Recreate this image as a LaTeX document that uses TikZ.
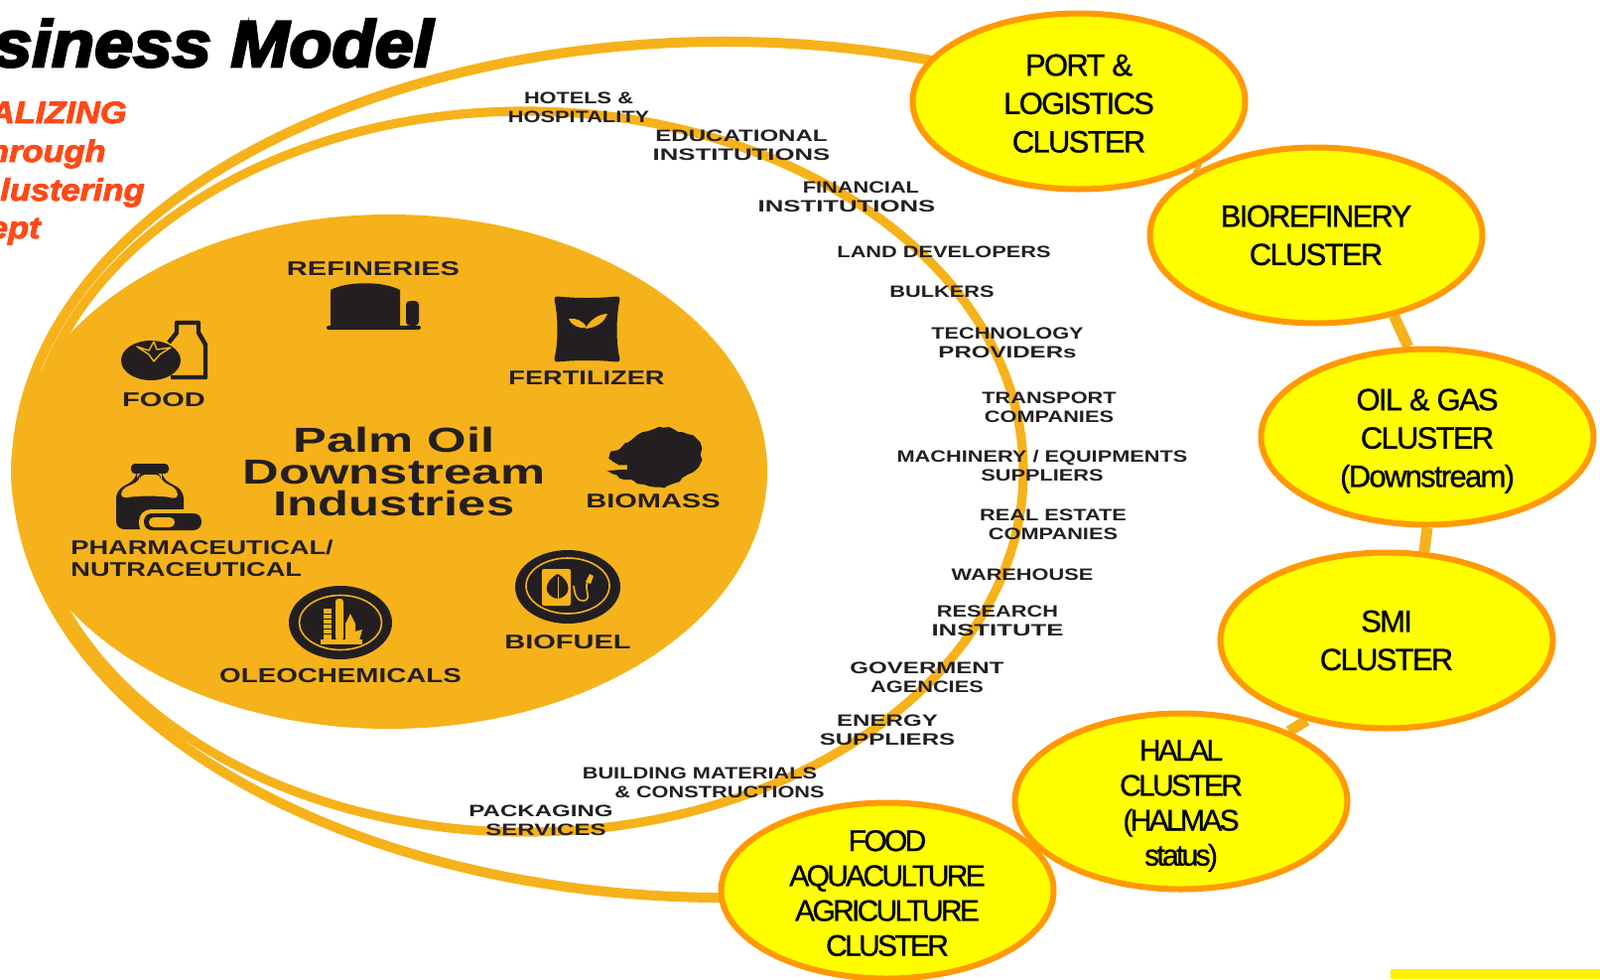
\documentclass[tikz,border=0pt]{standalone}
\usepackage{fontspec}
\usepackage{tikz}
\usetikzlibrary{positioning}
\usetikzlibrary{backgrounds}
\usetikzlibrary{shapes.geometric}
\usetikzlibrary{decorations.pathmorphing}
\setmainfont{Liberation Sans}
\newfontfamily\heavyfont[BoldItalicFeatures={FakeBold=4,FakeStretch=1.07}]{Liberation Sans}
\newfontfamily\bannerfont[BoldItalicFeatures={FakeBold=3,FakeStretch=1.11}]{Liberation Sans}
\newfontfamily\clusterfont[LetterSpace=-5.5,FakeBold=0.8]{Liberation Sans}
\newfontfamily\tightfont[LetterSpace=-9,FakeBold=0.8]{Liberation Sans}
\newfontfamily\labelfont[FakeStretch=1.45]{Liberation Sans}
\newfontfamily\sectorfont[FakeStretch=1.36]{Liberation Sans}
\newfontfamily\partnerfont[FakeStretch=1.31]{Liberation Sans}
\newfontfamily\widefont[FakeStretch=1.55]{Liberation Sans}
\definecolor{gold}{RGB}{246,178,26}
\definecolor{lemon}{RGB}{255,255,0}
\definecolor{rim}{RGB}{255,153,0}
\definecolor{ink}{RGB}{35,31,32}
\definecolor{flame}{RGB}{255,74,23}
\definecolor{barcol}{RGB}{255,242,0}

\begin{document}
\begin{tikzpicture}[x=0.5pt,y=-0.5pt]
	\tikzstyle{ringline}=[draw=gold, line width=5pt]
	\tikzstyle{link}=[draw=gold, line width=5.5pt]
	\tikzstyle{cluster}=[ellipse, draw=rim, fill=lemon, line width=3pt, minimum width=167.5pt, minimum height=88.5pt, inner xsep=0pt, inner ysep=-30pt, align=center, font=\clusterfont\fontsize{15.5}{19.3}\selectfont]
	\tikzstyle{clustertight}=[cluster, font=\tightfont\fontsize{15}{17.6}\selectfont]
	\tikzstyle{sector}=[inner sep=0pt, yshift=-0.8pt, align=center, text=ink, font=\labelfont\bfseries\fontsize{10}{10.8}\selectfont]
	\tikzstyle{partner}=[inner sep=0pt, yshift=-0.6pt, align=center, text=ink, font=\partnerfont\bfseries\fontsize{8.3}{9.8}\selectfont]
	\tikzstyle{partnerwide}=[partner, font=\labelfont\bfseries\fontsize{8.3}{9.8}\selectfont]
	\tikzstyle{banner}=[inner sep=0pt, anchor=base east, text=flame, font=\bannerfont\bfseries\itshape\fontsize{15.5}{18}\selectfont]
	\tikzstyle{icon}=[fill=ink, draw=none]
	
	\useasboundingbox (0,0) rectangle (1612,986);
	
	% rings behind everything
	\draw [ringline] (944,62) arc [start angle=-72.5, end angle=-270, x radius=713, y radius=431];
	\draw [ringline, line width=4.6pt] (529,475) ellipse [x radius=502, y radius=363];
	\fill [gold] (392,475) ellipse [x radius=381, y radius=259];
	
	\node at (437,67) [inner sep=0pt, anchor=base east, font=\heavyfont\bfseries\itshape\fontsize{33}{36}\selectfont] (title) {siness Model};
	\node at (128,124) [banner] (line1) {ALIZING};
	\node at (107,163) [banner] (line2) {hrough};
	\node at (146,202) [banner] (line3) {lustering};
	\node at (41,240) [banner] (line4) {ept};
	
	\node at (397,475) [inner sep=0pt, align=center, text=ink, font=\labelfont\bfseries\fontsize{17.5}{16.2}\selectfont] (palm) {Palm Oil\\Downstream\\Industries};
	
	\node at (376,269) [sector] (refineries) {REFINERIES};
	\node at (165,401) [sector] (food) {FOOD};
	\node at (591,379) [sector, font=\sectorfont\bfseries\fontsize{10}{10.8}\selectfont] (fertilizer) {FERTILIZER};
	\node at (658,503) [sector] (biomass) {BIOMASS};
	\node at (71,561) [sector, anchor=west, align=left, font=\sectorfont\bfseries\fontsize{10}{10.8}\selectfont] (pharma) {PHARMACEUTICAL/\\NUTRACEUTICAL};
	\node at (343,679) [sector, font=\sectorfont\bfseries\fontsize{10.2}{10.8}\selectfont] (oleo) {OLEOCHEMICALS};
	\node at (572,645) [sector] (biofuel) {BIOFUEL};
	
	% refinery
	\fill [icon] (333,328) -- (333,292) .. controls (350,283) and (386,283) .. (403,292) -- (403,328) -- cycle;
	\fill [icon, rounded corners=1pt] (329,328) rectangle (424,332);
	\fill [icon, rounded corners=2pt] (409,328) -- (409,303) -- (422,303) -- (422,328) -- cycle;
	
	% tomato and bottle
	\draw [ink, line width=2.2pt, line join=round] (170,345) -- (178,335) -- (178,325) -- (200,325) -- (200,335) -- (207,347) -- (207,380) -- (172,380);
	\fill [icon] (152,363) ellipse [x radius=30, y radius=20];
	\draw [gold, line width=0.7pt, line join=round] (138,349) -- (150,353) -- (155,344) -- (158,352) -- (172,350) -- (161,357) -- (155,364) -- (150,357) -- cycle;
	
	% fertilizer bag
	\filldraw [ink, line width=2.5pt, line join=round] (561,301) .. controls (580,303) and (603,303) .. (622,301) .. controls (618,320) and (618,345) .. (622,362) .. controls (603,360) and (580,360) .. (561,362) .. controls (565,345) and (565,320) .. (561,301) -- cycle;
	\fill [gold] (573,321) .. controls (580,320) and (588,323) .. (591,330) .. controls (583,331) and (576,328) .. (573,321) -- cycle;
	\fill [gold] (612,316) .. controls (604,316) and (594,322) .. (590,331) .. controls (600,330) and (609,325) .. (612,316) -- cycle;
	
	% biomass heap
	\fill [icon, decorate, decoration={random steps, segment length=2.5pt, amplitude=0.8pt}] plot [smooth cycle] coordinates {(615,460) (644,437) (668,431) (702,443) (704,470) (678,487) (658,490) (617,477) (632,472)};
	
	% pharmaceutical bottle and pill
	\fill [icon, rounded corners=4pt] (138,476) -- (138,482) -- (117,494) -- (117,533) -- (185,533) -- (185,494) -- (163,482) -- (163,476) -- cycle;
	\fill [icon, rounded corners=2pt] (132,467) rectangle (170,477);
	\fill [gold, rounded corners=2.5pt] (122,502) -- (122,493) -- (141,484) -- (141,478) -- (162,478) -- (162,484) -- (179,493) -- (179,503) .. controls (165,499) and (140,499) .. (122,502) -- cycle;
	\fill [gold, rounded corners=6pt] (140,513) rectangle (208,540);
	\fill [icon, rounded corners=4pt] (145,517) rectangle (203,534);
	\fill [gold, rounded corners=2.4pt] (150,521) rectangle (176,531);
	
	% oleochemicals badge
	\fill [icon] (343,627) ellipse [x radius=52, y radius=37];
	\draw [gold, line width=0.8pt] (343,627) ellipse [x radius=41.5, y radius=27.5];
	\fill [gold] (323,644) rectangle (365,649);
	\fill [gold] (326,613) rectangle (334,645);
	\foreach \ypos in {618,623,...,638}
		\draw [ink, line width=0.3pt] (326,\ypos) -- (334,\ypos);
	\fill [gold, rounded corners=1.5pt] (338,645) -- (338,603) -- (346,603) -- (346,645) -- cycle;
	\fill [gold] (348,645) -- (348,628) -- (353,618) -- (358,628) -- (358,636) -- (365,634) -- (362,645) -- cycle;
	
	% biofuel badge
	\fill [icon] (572,591) ellipse [x radius=53, y radius=37];
	\draw [gold, line width=0.8pt] (572,590) ellipse [x radius=42, y radius=28];
	\fill [gold, rounded corners=1pt] (546,573) rectangle (575,610);
	\fill [icon] (562,578) .. controls (548,585) and (546,600) .. (562,603) .. controls (577,600) and (575,585) .. (562,578) -- cycle;
	\draw [gold, line width=0.5pt] (562,581) -- (562,603);
	\draw [gold, line width=0.8pt] (578,590) .. controls (579,600) and (582,606) .. (588,605) .. controls (597,604) and (588,592) .. (592,586);
	\fill [gold] (590,586) -- (594,578) -- (598,580) -- (595,588) -- cycle;
	
	\draw node at (1087,102) [cluster] (port) {\rule{0pt}{13pt}PORT \&\\LOGISTICS\\CLUSTER};
	\draw node at (1326,237) [cluster] (bio) {BIOREFINERY\\CLUSTER};
	\draw node at (1438,440) [cluster] (oil) {\rule{0pt}{15pt}OIL \& GAS\\CLUSTER\\(Downstream)};
	\draw node at (1397,645) [cluster] (smi) {SMI\\CLUSTER};
	\draw node at (1190,807) [clustertight] (halal) {\rule{0pt}{15pt}HALAL\\CLUSTER\\(HALMAS\\status)};
	\draw node at (894,897) [clustertight] (agri) {\rule{0pt}{13pt}FOOD\\AQUACULTURE\\AGRICULTURE\\CLUSTER};
	
	\begin{pgfonlayer}{background}
	\draw [link] (port) to (bio);
	\draw [link] (bio.-46) to (oil.102);
	\draw [link] (oil.-90) to (smi.67);
	\draw [link] (smi.-135) to (halal.33);
	\end{pgfonlayer}
	
	\node at (583,107) [partner] (hotels) {HOTELS \&\\HOSPITALITY};
	\node at (747,145) [partnerwide] (edu) {EDUCATIONAL\\{\widefont INSTITUTIONS}};
	\node at (853,197) [partner] (fin) {\hspace*{14.4pt}FINANCIAL\\{\widefont INSTITUTIONS}};
	\node at (951,253) [partner] (land) {LAND DEVELOPERS};
	\node at (949,293) [partner] (bulk) {BULKERS};
	\node at (1015,344) [partner] (tech) {TECHNOLOGY\\{\labelfont PROVIDERs}};
	\node at (1057,409) [partner] (trans) {TRANSPORT\\COMPANIES};
	\node at (1050,468) [partner] (mach) {MACHINERY / EQUIPMENTS\\SUPPLIERS};
	\node at (1061,527) [partner] (real) {REAL ESTATE\\COMPANIES};
	\node at (1030,578) [partner] (ware) {WAREHOUSE};
	\node at (1005,624) [partner] (res) {RESEARCH\\{\widefont INSTITUTE}};
	\node at (934,681) [partner] (gov) {{\labelfont GOVERMENT}\\AGENCIES};
	\node at (894,734) [partnerwide] (energy) {ENERGY\\SUPPLIERS};
	\node at (705,787) [partner] (build) {BUILDING MATERIALS\\\hspace*{20pt}\& CONSTRUCTIONS};
	\node at (545,825) [partnerwide] (pack) {PACKAGING\\\hspace*{5pt}SERVICES};
	
	\fill [barcol] (1401,976) rectangle (1612,986);
\end{tikzpicture}
\end{document}
